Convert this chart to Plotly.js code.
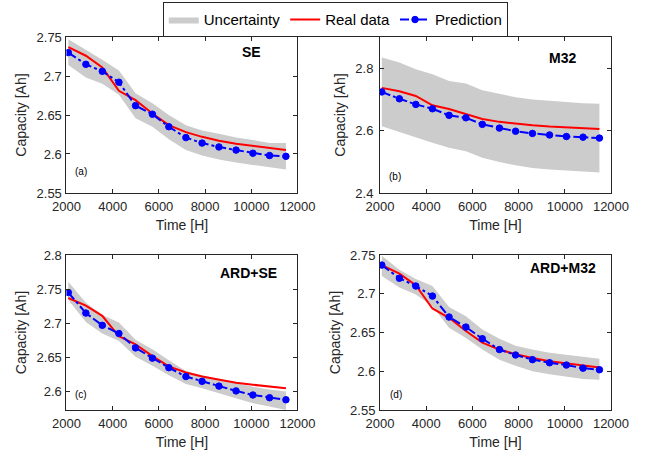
<!DOCTYPE html>
<html>
<head>
<meta charset="utf-8">
<script src="https://cdn.plot.ly/plotly-3.0.1.min.js"></script>
<style>html,body{margin:0;padding:0;background:#fff;}#chart{width:646px;height:457px;}</style>
</head>
<body>
<div id="chart"></div>
<script>
// Time points [H]
var time = [2080, 2840, 3550, 4270, 4990, 5720, 6430, 7170, 7870, 8600, 9340, 10070, 10790, 11500];

// Real data (same in all panels)
var realData = [2.737, 2.726, 2.711, 2.681, 2.669, 2.652, 2.637, 2.628, 2.622, 2.617, 2.613, 2.610, 2.608, 2.605];

// (a) SE
var predSE  = [2.730, 2.715, 2.706, 2.692, 2.662, 2.651, 2.635, 2.621, 2.614, 2.609, 2.605, 2.601, 2.598, 2.597];
var upperSE = [2.747, 2.734, 2.721, 2.707, 2.678, 2.665, 2.650, 2.637, 2.630, 2.626, 2.621, 2.618, 2.614, 2.614];
var lowerSE = [2.714, 2.698, 2.690, 2.676, 2.646, 2.635, 2.619, 2.605, 2.598, 2.593, 2.589, 2.586, 2.583, 2.580];

// (b) M32
var predM32  = [2.724, 2.702, 2.684, 2.670, 2.649, 2.641, 2.620, 2.608, 2.598, 2.591, 2.586, 2.581, 2.579, 2.576];
var upperM32 = [2.834, 2.818, 2.797, 2.781, 2.759, 2.751, 2.729, 2.718, 2.707, 2.700, 2.695, 2.692, 2.688, 2.686];
var lowerM32 = [2.614, 2.595, 2.577, 2.561, 2.545, 2.534, 2.513, 2.499, 2.489, 2.480, 2.475, 2.471, 2.469, 2.466];

// (c) ARD+SE
var predARDSE  = [2.745, 2.715, 2.697, 2.685, 2.664, 2.649, 2.635, 2.622, 2.615, 2.608, 2.601, 2.595, 2.591, 2.588];
var upperARDSE = [2.761, 2.730, 2.712, 2.701, 2.676, 2.662, 2.646, 2.630, 2.624, 2.618, 2.612, 2.607, 2.603, 2.600];
var lowerARDSE = [2.734, 2.702, 2.685, 2.674, 2.651, 2.638, 2.624, 2.611, 2.605, 2.598, 2.591, 2.583, 2.578, 2.573];

// (d) ARD+M32
var predARDM32  = [2.737, 2.720, 2.710, 2.697, 2.670, 2.657, 2.642, 2.628, 2.621, 2.615, 2.611, 2.608, 2.604, 2.602];
var upperARDM32 = [2.749, 2.731, 2.719, 2.710, 2.683, 2.671, 2.654, 2.642, 2.633, 2.628, 2.624, 2.621, 2.618, 2.616];
var lowerARDM32 = [2.723, 2.708, 2.699, 2.684, 2.656, 2.643, 2.628, 2.615, 2.607, 2.600, 2.596, 2.593, 2.590, 2.589];

var xTicks = [2000, 4000, 6000, 8000, 10000, 12000];
var yTicksA = [2.55, 2.6, 2.65, 2.7, 2.75];
var yTicksB = [2.4, 2.6, 2.8];
var yTicksC = [2.6, 2.65, 2.7, 2.75, 2.8];
var yTicksD = [2.55, 2.6, 2.65, 2.7, 2.75];

var panels = [
  {pred: predSE, up: upperSE, lo: lowerSE, xa: 'x', ya: 'y'},
  {pred: predM32, up: upperM32, lo: lowerM32, xa: 'x2', ya: 'y2'},
  {pred: predARDSE, up: upperARDSE, lo: lowerARDSE, xa: 'x3', ya: 'y3'},
  {pred: predARDM32, up: upperARDM32, lo: lowerARDM32, xa: 'x4', ya: 'y4'}
];

var traces = [];
panels.forEach(function(p, i){
  var first = (i === 0);
  traces.push({x: time, y: p.lo, xaxis: p.xa, yaxis: p.ya, mode: 'lines',
    line: {width: 0, color: '#cccccc'}, showlegend: false, hoverinfo: 'skip', legendgroup: 'unc'});
  traces.push({x: time, y: p.up, xaxis: p.xa, yaxis: p.ya, mode: 'lines', fill: 'tonexty',
    fillcolor: '#cccccc', line: {width: 0, color: '#cccccc'}, name: 'Uncertainty', showlegend: first, legendgroup: 'unc'});
  traces.push({x: time, y: realData, xaxis: p.xa, yaxis: p.ya, mode: 'lines',
    line: {color: '#ff0000', width: 2}, name: 'Real data', showlegend: first, legendgroup: 'real'});
  traces.push({x: time, y: p.pred, xaxis: p.xa, yaxis: p.ya, mode: 'lines+markers',
    line: {color: '#0000ff', width: 2, dash: 'dashdot'},
    marker: {symbol: 'circle', size: 6.5, color: '#0000ff', line: {color: '#0000ff', width: 1}},
    name: 'Prediction', showlegend: first, legendgroup: 'pred'});
});

var axisCommon = {
  showgrid: false, zeroline: false, showline: true, mirror: 'ticks', linecolor: '#262626', linewidth: 1,
  ticks: 'inside', ticklen: 4, tickcolor: '#262626', tickwidth: 1,
  tickfont: {family: 'Liberation Sans, Arial, sans-serif', size: 13, color: '#262626'},
  automargin: false
};
function xAxis(domain, anchor){
  return Object.assign({}, axisCommon, {domain: domain, anchor: anchor, range: [2000, 12000],
    tickvals: xTicks, ticktext: xTicks.map(String), ticklabelstandoff: 1,
    title: {text: 'Time [H]', font: {family: 'Liberation Sans, Arial, sans-serif', size: 14, color: '#262626'}, standoff: 7}});
}
function yAxis(domain, anchor, range, ticks){
  return Object.assign({}, axisCommon, {domain: domain, anchor: anchor, range: range,
    tickvals: ticks, ticktext: ticks.map(String), ticklabelstandoff: 1,
    title: {text: 'Capacity [Ah]', font: {family: 'Liberation Sans, Arial, sans-serif', size: 14, color: '#262626'}, standoff: 6}});
}

var colL = [0.1029, 0.4605], colR = [0.5882, 0.9458];
var rowT = [0.5777, 0.9190], rowB = [0.1028, 0.4420];

var font = 'Liberation Sans, Arial, sans-serif';
function ann(text, x, y, size, bold){
  return {text: bold ? '<b>' + text + '</b>' : text, x: x, y: y, xref: 'paper', yref: 'paper',
    showarrow: false, xanchor: 'center', yanchor: 'middle', font: {family: font, size: size, color: '#000'}};
}

var layout = {
  width: 646, height: 457,
  margin: {l: 0, r: 0, t: 0, b: 0},
  paper_bgcolor: '#ffffff', plot_bgcolor: '#ffffff',
  showlegend: true,
  legend: {orientation: 'h', x: 0.252, y: 0.995, xanchor: 'left', yanchor: 'top',
    bordercolor: '#262626', borderwidth: 1, bgcolor: '#ffffff',
    font: {family: font, size: 15, color: '#000'}, traceorder: 'normal', tracegroupgap: 0},
  xaxis: xAxis(colL, 'y'), yaxis: yAxis(rowT, 'x', [2.55, 2.75], yTicksA),
  xaxis2: xAxis(colR, 'y2'), yaxis2: Object.assign(yAxis(rowT, 'x2', [2.4, 2.9], yTicksB), {ticklabelstandoff: 3}),
  xaxis3: xAxis(colL, 'y3'), yaxis3: yAxis(rowB, 'x3', [2.573, 2.8], yTicksC),
  xaxis4: xAxis(colR, 'y4'), yaxis4: yAxis(rowB, 'x4', [2.55, 2.75], yTicksD),
  annotations: [
    ann('SE', 0.390, 0.886, 14, true),
    ann('M32', 0.870, 0.874, 14, true),
    ann('ARD+SE', 0.385, 0.403, 14, true),
    ann('ARD+M32', 0.8715, 0.4136, 14, true),
    ann('(a)', 0.1254, 0.6258, 10, false),
    ann('(b)', 0.6115, 0.6127, 10, false),
    ann('(c)', 0.1254, 0.1357, 10, false),
    ann('(d)', 0.613, 0.1357, 10, false)
  ]
};

Plotly.newPlot('chart', traces, layout, {displayModeBar: false, staticPlot: true});
</script>
</body>
</html>
